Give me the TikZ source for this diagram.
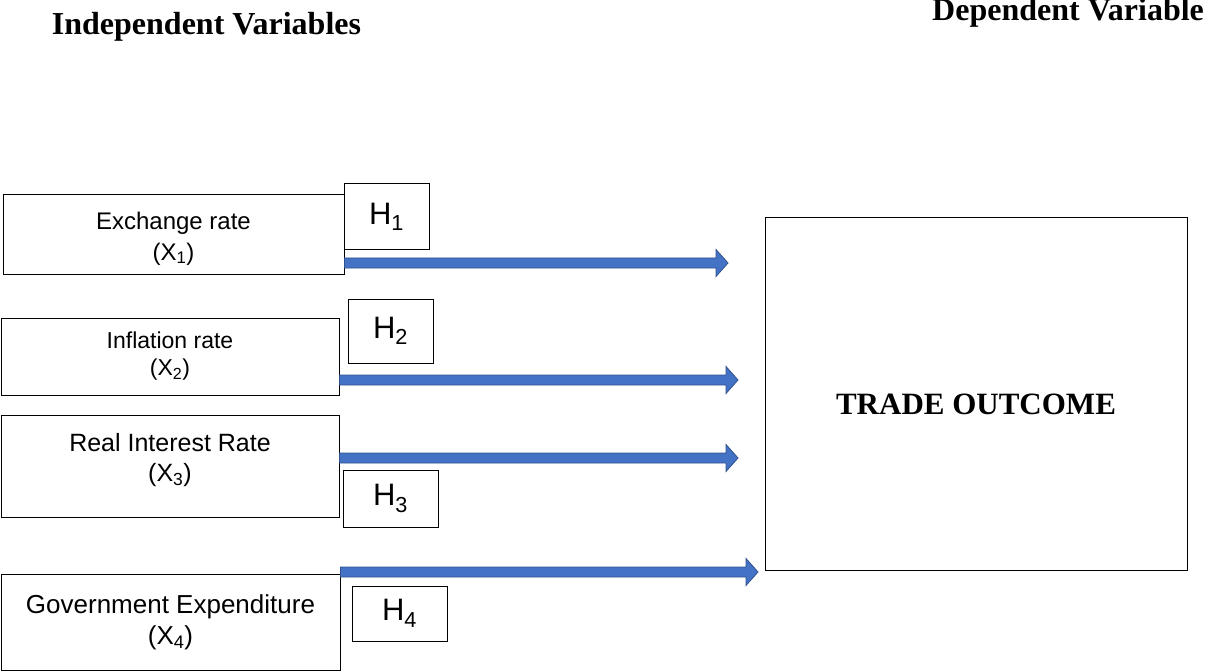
\documentclass[tikz,border=0pt]{standalone}
\usepackage{fontspec}
\setmainfont{Liberation Serif}
\newfontfamily\arialfont{Liberation Sans}
\usetikzlibrary{positioning,calc}
\definecolor{arrowfill}{HTML}{4472C4}
\definecolor{arrowedge}{HTML}{2F528F}

\tikzset{
  varbox/.style={draw, line width=1pt, align=center, inner sep=0pt,
    font=\arialfont\fontsize{23}{27}\selectfont},
  hbox/.style={draw, line width=1pt, inner sep=0pt,
    font=\arialfont\fontsize{31}{35}\selectfont},
  headtext/.style={font=\bfseries\fontsize{32}{38}\selectfont, inner sep=0pt}
}

\newcommand{\blockarrow}[2]{%
  \path let \p1=(#1), \p2=(#2) in
    [fill=arrowfill, draw=arrowedge, line width=0.8pt]
    (\x1,\y1+5pt) -- (\x2-12pt,\y1+5pt) -- (\x2-12pt,\y1+13.5pt) -- (\x2,\y1)
    -- (\x2-12pt,\y1-13.5pt) -- (\x2-12pt,\y1-5pt) -- (\x1,\y1-5pt) -- cycle;}

\begin{document}
\begin{tikzpicture}[x=1pt, y=-1pt]
\useasboundingbox (0,0) rectangle (1205,671);

\node [headtext, anchor=base] (indep) at (206.5,35) {Independent Variables};
\node [headtext, anchor=base west] (dep) at (932,21) {Dependent Variable};

\node [varbox, minimum width=341pt, minimum height=79pt, text height=56pt, font=\arialfont\fontsize{24}{31}\selectfont] (x1) at (173.5,234.5) {Exchange rate\\(X\textsubscript{1})};
\node [varbox, minimum width=338pt, minimum height=77pt] (x2) at (170,356.5) {Inflation rate\\(X\textsubscript{2})};
\node [varbox, minimum width=338pt, minimum height=102pt, text depth=17pt, font=\arialfont\fontsize{25}{30}\selectfont] (x3) at (170,466) {Real Interest Rate\\(X\textsubscript{3})};
\node [varbox, minimum width=339pt, minimum height=96pt, font=\arialfont\fontsize{26}{31}\selectfont] (x4) at (170.5,622) {Government Expenditure\\(X\textsubscript{4})};

\node [hbox, minimum width=85pt, minimum height=66pt] (h1) at (386.5,217) {H\textsubscript{1}};
\node [hbox, minimum width=85pt, minimum height=64pt] (h2) at (390.5,331) {H\textsubscript{2}};
\node [hbox, minimum width=95pt, minimum height=57pt] (h3) at (390.5,498.5) {H\textsubscript{3}};
\node [hbox, minimum width=95pt, minimum height=55pt] (h4) at (399.5,613.5) {H\textsubscript{4}};

\node [draw, line width=1pt, minimum width=422pt, minimum height=352pt, text height=41pt,
  font=\bfseries\fontsize{31}{37}\selectfont] (trade) at (976,394) {TRADE OUTCOME};

\coordinate (e1) at (728,263);
\coordinate (e2) at (738,380);
\coordinate (e3) at (738,458);
\coordinate (e4) at (758,572);
\blockarrow{x1.east |- e1}{e1}
\blockarrow{x2.east |- e2}{e2}
\blockarrow{x3.east |- e3}{e3}
\blockarrow{x4.east |- e4}{e4}
\end{tikzpicture}
\end{document}
